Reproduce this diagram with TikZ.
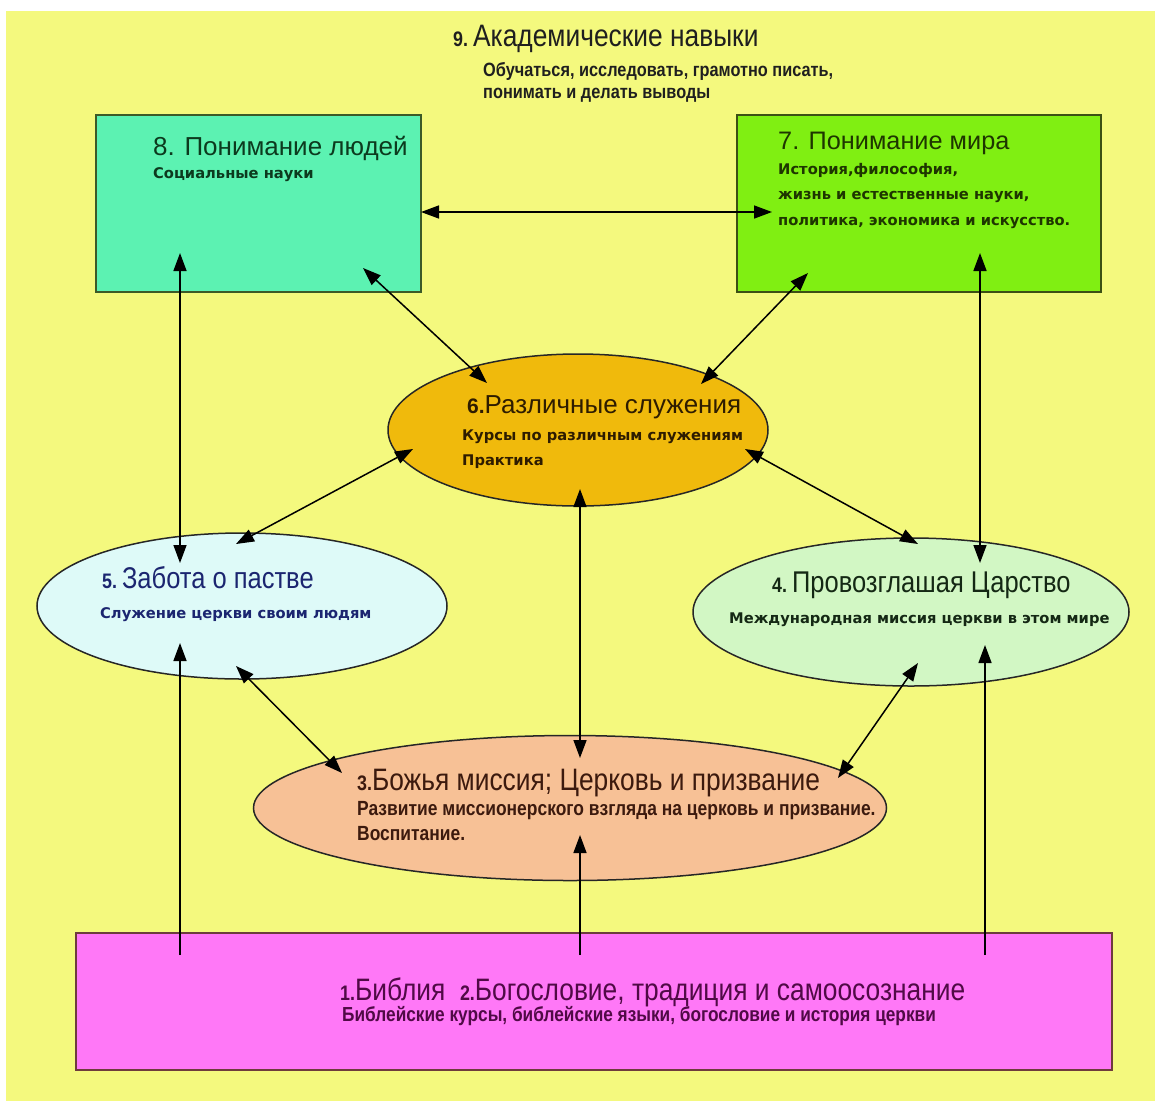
\documentclass[tikz,border=0pt]{standalone}
\usepackage{fontspec}
\setmainfont{Liberation Sans}
\newfontfamily\narrowFont[FakeStretch=0.85]{Liberation Sans}
\newfontfamily\wideFont{DejaVu Sans}
\usetikzlibrary{arrows.meta,shapes.geometric}
\definecolor{bgYellow}{HTML}{F4F97E}
\definecolor{peopleFill}{HTML}{5CF2B2}
\definecolor{peopleLine}{HTML}{3C5A28}
\definecolor{peopleText}{HTML}{0C3A1E}
\definecolor{worldFill}{HTML}{80EF12}
\definecolor{worldLine}{HTML}{3C5014}
\definecolor{worldText}{HTML}{1E3600}
\definecolor{ministFill}{HTML}{F0BA0C}
\definecolor{ministText}{HTML}{2E1C00}
\definecolor{flockFill}{HTML}{DEFAF8}
\definecolor{flockText}{HTML}{1B2570}
\definecolor{kingdomFill}{HTML}{D2F7C4}
\definecolor{kingdomText}{HTML}{142814}
\definecolor{missionFill}{HTML}{F7C196}
\definecolor{missionText}{HTML}{3C1A0E}
\definecolor{bibleFill}{HTML}{FF78F7}
\definecolor{bibleLine}{HTML}{6E3C3C}
\definecolor{bibleText}{HTML}{500A46}
\newcommand{\boxHead}{\fontsize{26}{26}\selectfont}
\newcommand{\ovalHead}{\narrowFont\fontsize{30}{30}\selectfont}
\newcommand{\bigHead}{\narrowFont\fontsize{31}{31}\selectfont}
\newcommand{\wideSub}{\wideFont\bfseries\fontsize{14.7}{14.7}\selectfont}
\newcommand{\narrowSub}{\narrowFont\bfseries\fontsize{20.5}{20.5}\selectfont}
\newcommand{\numSmall}[1]{{\fontsize{21}{21}\selectfont\bfseries #1}}

\begin{document}
\begin{tikzpicture}[x=1pt,y=-1pt,
    >={Triangle[length=18pt,width=13pt]},
    txt/.style={anchor=base west,inner sep=0pt},
    panel/.style={draw,line width=2pt,inner sep=0pt},
    oval/.style={ellipse,draw=black!85,line width=1.5pt,inner sep=0pt},
    link/.style={<->,line width=1.5pt},
    feed/.style={->,line width=1.5pt}]
\useasboundingbox (0,0) rectangle (1155,1101);
\fill[bgYellow] (6,11) rectangle (1155,1101);

% 9
\node[txt,font=\bigHead,text=black!88] (skillsHead) at (453,46) {\numSmall{9.}\hspace{5pt}Академические навыки};
\node[txt,font=\narrowSub,text=black!88] (skillsA) at (483,76) {\fontsize{19.2}{19.2}\selectfont Обучаться, исследовать, грамотно писать,};
\node[txt,font=\narrowSub,text=black!88] (skillsB) at (483,98) {\fontsize{19.2}{19.2}\selectfont понимать и делать выводы};

% 8 and 7
\node[panel,fill=peopleFill,draw=peopleLine,minimum width=325,minimum height=177] (people) at (258.5,203.5) {};
\node[txt,font=\boxHead,text=peopleText] (peopleHead) at (153,155) {8. Понимание людей};
\node[txt,font=\wideSub,text=peopleText] (peopleSub) at (153,178) {Социальные науки};

\node[panel,fill=worldFill,draw=worldLine,minimum width=364,minimum height=177] (world) at (919,203.5) {};
\node[txt,font=\boxHead,text=worldText] (worldHead) at (778,149) {\fontsize{25.3}{25.3}\selectfont 7. Понимание мира};
\node[txt,font=\wideSub,text=worldText] (worldA) at (778,174) {История,философия,};
\node[txt,font=\wideSub,text=worldText] (worldB) at (778,199) {жизнь и естественные науки,};
\node[txt,font=\wideSub,text=worldText] (worldC) at (778,225) {политика, экономика и искусство.};

% 6
\node[oval,fill=ministFill,minimum width=380,minimum height=152] (minist) at (578,430) {};
\node[txt,font=\boxHead,text=ministText] (ministHead) at (467,413) {\numSmall{6.}Различные служения};
\node[txt,font=\wideSub,text=ministText] (ministA) at (462,440) {Курсы по различным служениям};
\node[txt,font=\wideSub,text=ministText] (ministB) at (462,465) {Практика};

% 5 and 4
\node[oval,fill=flockFill,minimum width=410,minimum height=146] (flock) at (242,606) {};
\node[txt,font=\ovalHead,text=flockText] (flockHead) at (102,588) {\numSmall{5.}\hspace{5pt}Забота о пастве};
\node[txt,font=\wideSub,text=flockText] (flockSub) at (100,618) {Служение церкви своим людям};

\node[oval,fill=kingdomFill,minimum width=436,minimum height=148] (kingdom) at (911,612) {};
\node[txt,font=\ovalHead,text=kingdomText] (kingdomHead) at (772,592) {\numSmall{4.}\hspace{5pt}Провозглашая Царство};
\node[txt,font=\wideSub,text=kingdomText] (kingdomSub) at (729,623) {Международная миссия церкви в этом мире};

% 3
\node[oval,fill=missionFill,minimum width=633,minimum height=145] (mission) at (570,808) {};
\node[txt,font=\bigHead,text=missionText] (missionHead) at (357,790) {\numSmall{3.}Божья миссия; Церковь и призвание};
\node[txt,font=\narrowSub,text=missionText] (missionA) at (357,815) {Развитие миссионерского взгляда на церковь и призвание.};
\node[txt,font=\narrowSub,text=missionText] (missionB) at (357,840) {Воспитание.};

% 1 and 2
\node[panel,fill=bibleFill,draw=bibleLine,minimum width=1036,minimum height=137] (bible) at (594,1001.5) {};
\node[txt,font=\bigHead,text=bibleText] (bibleHead) at (340,1000) {\numSmall{1.}Библия\ \ \numSmall{2.}Богословие, традиция и самоосознание};
\node[txt,font=\narrowSub,text=bibleText] (bibleSub) at (342,1021) {\fontsize{20.3}{20.3}\selectfont Библейские курсы, библейские языки, богословие и история церкви};

% connections
\draw[link] ([shift={(-1,8.5)}]people.east) -- ([shift={(36,8.5)}]world.west);
\draw[link] ([shift={(-78.5,49.5)}]people.center) -- ([shift={(-62,-43)}]flock.center);
\draw[link] ([shift={(61,49.5)}]world.center) -- ([shift={(69,-49)}]kingdom.center);
\draw[link] ([shift={(104.5,64.5)}]people.center) -- ([shift={(-91,-47)}]minist.center);
\draw[link] ([shift={(-111,69.5)}]world.center) -- ([shift={(123,-46)}]minist.center);
\draw[link] ([shift={(-165,19)}]minist.center) -- ([shift={(-6,-62)}]flock.center);
\draw[link] ([shift={(167,19)}]minist.center) -- ([shift={(7,-68)}]kingdom.center);
\draw[link] ([shift={(2,59)}]minist.center) -- ([shift={(10,-50)}]mission.center);
\draw[link] ([shift={(-6,60)}]flock.center) -- ([shift={(-228,-35)}]mission.center);
\draw[link] ([shift={(7,51)}]kingdom.center) -- ([shift={(268,-30)}]mission.center);
\draw[feed] ([shift={(-414,-46.5)}]bible.center) -- ([shift={(-62,37)}]flock.center);
\draw[feed] ([shift={(-14,-46.5)}]bible.center) -- ([shift={(10,27)}]mission.center);
\draw[feed] ([shift={(391,-46.5)}]bible.center) -- ([shift={(74,33)}]kingdom.center);
\end{tikzpicture}
\end{document}
